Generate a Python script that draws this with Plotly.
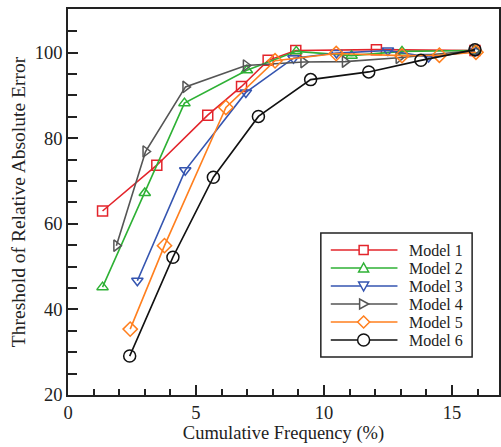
import plotly.graph_objects as go

names = ["Model 1", "Model 2", "Model 3", "Model 4", "Model 5", "Model 6"]

x1 = [1.35, 3.47, 5.46, 6.78, 7.82, 8.9, 12.05, 15.9]
y1 = [63.0, 73.7, 85.4, 92.1, 98.2, 100.5, 100.7, 100.5]

x2 = [1.35, 3.0, 4.55, 6.99, 8.92, 11.08, 13.05, 15.9]
y2 = [45.2, 67.2, 88.2, 95.9, 100.3, 99.3, 100.3, 100.5]

x3 = [2.71, 4.58, 6.95, 8.81, 10.49, 12.5, 14.09, 15.9]
y3 = [46.7, 72.5, 90.7, 98.7, 99.9, 100.5, 99.0, 100.3]

x4 = [1.89, 3.03, 4.59, 6.95, 9.2, 10.82, 12.92, 15.9]
y4 = [54.9, 76.9, 92.0, 97.0, 97.8, 97.9, 98.8, 100.5]

x5 = [2.43, 3.77, 6.17, 8.09, 10.48, 13.05, 14.51, 15.94]
y5 = [35.4, 54.9, 87.2, 98.1, 99.8, 99.3, 99.4, 100.1]

x6 = [2.41, 4.1, 5.68, 7.44, 9.48, 11.75, 13.79, 15.9]
y6 = [29.1, 52.2, 70.9, 85.1, 93.7, 95.5, 98.2, 100.7]

xs = [x1, x2, x3, x4, x5, x6]
ys = [y1, y2, y3, y4, y5, y6]
colors = ["#e3242b", "#2eb135", "#3555b0", "#555555", "#ff7f1e", "#111111"]
symbols = ["square-open", "triangle-up-open", "triangle-down-open",
           "triangle-right-open", "diamond-open", "circle-open"]
sizes = [10, 10, 10, 10, 11, 12]

FONT = "Liberation Serif, Times New Roman, serif"
INK = "#222222"

fig = go.Figure()
for n, x, y, c, s, sz in zip(names, xs, ys, colors, symbols, sizes):
    fig.add_trace(go.Scatter(
        x=x, y=y, name=n, mode="lines+markers", showlegend=False,
        line=dict(color=c, width=1.6),
        marker=dict(symbol=s, size=sz, color=c, line=dict(width=1.5, color=c)),
    ))

# ---- custom legend (layout decoration, pixel-placed like the reference) ----
L, T, PW, PH = 68, 9, 433, 386  # plot area in px


def px_x(px):
    return (px - L) / PW


def px_y(py):
    return (T + PH - py) / PH


shapes = [dict(type="rect", xref="paper", yref="paper",
               x0=px_x(322), x1=px_x(474), y0=px_y(357), y1=px_y(233),
               line=dict(color=INK, width=1.5), fillcolor="white", layer="above")]
glyph_paths = {
    "square-open": "M-4.5,-4.5 L4.5,-4.5 L4.5,4.5 L-4.5,4.5 Z",
    "triangle-up-open": "M0,5 L5,-4 L-5,-4 Z",
    "triangle-down-open": "M0,-5 L5,4 L-5,4 Z",
    "triangle-right-open": "M5,0 L-4,5 L-4,-5 Z",
    "diamond-open": "M0,6 L6,0 L0,-6 L-6,0 Z",
}
annotations = []
for i, (n, c, s) in enumerate(zip(names, colors, symbols)):
    py = 250 + 18 * i
    shapes.append(dict(type="line", xref="paper", yref="paper",
                       x0=px_x(332), x1=px_x(399), y0=px_y(py), y1=px_y(py),
                       line=dict(color=c, width=1.6), layer="above"))
    if s == "circle-open":
        shapes.append(dict(type="circle", xref="paper", yref="paper",
                           xsizemode="pixel", ysizemode="pixel",
                           xanchor=px_x(365), yanchor=px_y(py),
                           x0=-6, x1=6, y0=-6, y1=6,
                           line=dict(color=c, width=1.5), fillcolor="white",
                           layer="above"))
    else:
        shapes.append(dict(type="path", xref="paper", yref="paper",
                           xsizemode="pixel", ysizemode="pixel",
                           xanchor=px_x(365), yanchor=px_y(py),
                           path=glyph_paths[s],
                           line=dict(color=c, width=1.5), fillcolor="white",
                           layer="above"))
    annotations.append(dict(text=n, xref="paper", yref="paper",
                            x=px_x(409), y=px_y(py), xanchor="left",
                            yanchor="middle", showarrow=False,
                            font=dict(family=FONT, size=16, color=INK)))

fig.update_layout(
    width=501, height=447,
    margin=dict(l=68, r=0, t=9, b=52),
    plot_bgcolor="white", paper_bgcolor="white",
    font=dict(family=FONT, size=16, color=INK),
    showlegend=False,
    shapes=shapes,
    annotations=annotations,
    xaxis=dict(
        range=[0, 16.84], tickvals=[0, 5, 10, 15],
        ticks="inside", ticklen=10, tickwidth=1.5, tickcolor=INK,
        minor=dict(dtick=1, ticks="inside", ticklen=6, tickwidth=1.5, tickcolor=INK),
        showline=True, linecolor=INK, linewidth=1.5, mirror=True,
        showgrid=False, zeroline=False,
        title=dict(text="Cumulative Frequency (%)", standoff=4,
                   font=dict(family=FONT, size=18.5, color=INK)),
        tickfont=dict(family=FONT, size=18.5, color=INK),
    ),
    yaxis=dict(
        range=[20, 110.2], tickvals=[20, 40, 60, 80, 100],
        ticks="inside", ticklen=10, tickwidth=1.5, tickcolor=INK,
        minor=dict(dtick=5, ticks="inside", ticklen=9, tickwidth=1.5, tickcolor=INK),
        showline=True, linecolor=INK, linewidth=1.5, mirror=True,
        showgrid=False, zeroline=False,
        title=dict(text="Threshold of Relative Absolute Error", standoff=4,
                   font=dict(family=FONT, size=19.5, color=INK)),
        tickfont=dict(family=FONT, size=18.5, color=INK),
    ),
)

fig.write_html("out.html")
